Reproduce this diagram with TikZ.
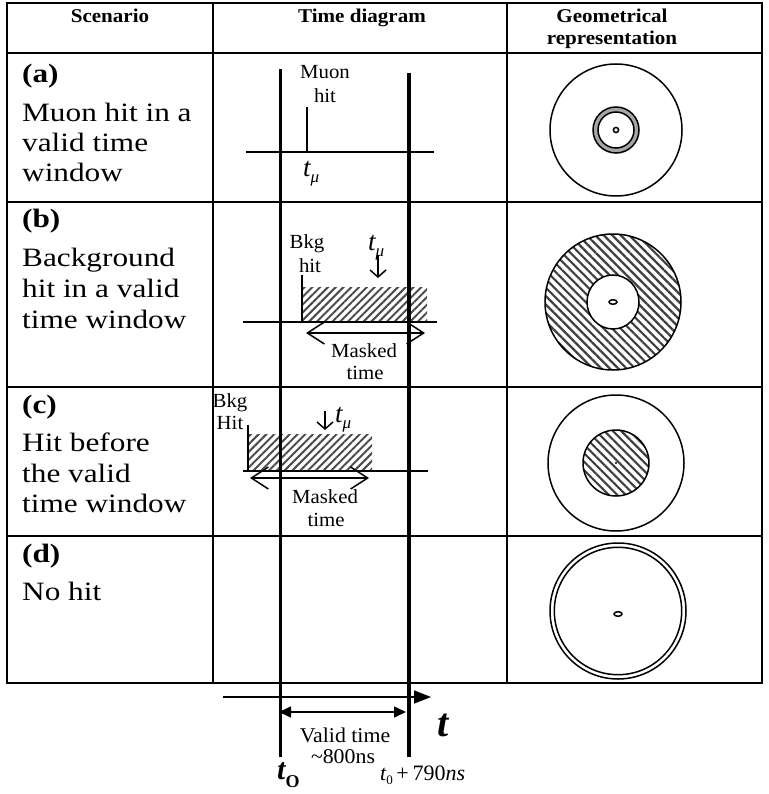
\documentclass[tikz,border=0pt]{standalone}
\usepackage{fontspec}
\setmainfont{Liberation Serif}
\newfontfamily\scen[FakeStretch=1.18]{Liberation Serif}
\newfontfamily\hdr[FakeStretch=1.08]{Liberation Serif}
\newfontfamily\lbl[FakeStretch=1.04]{Liberation Serif}
\usetikzlibrary{arrows.meta,patterns.meta}
\newcommand{\tmuA}{{\fontsize{27}{27}\selectfont\itshape t}\raisebox{-6pt}{\fontsize{17}{17}\selectfont\itshape μ}}
\begin{document}
\begin{tikzpicture}[x=1pt,y=-1pt,
  tbl/.style={line width=2.2pt},
  tline/.style={line width=3.5pt},
  ax/.style={line width=1.5pt},
  cl/.style={line width=1.5pt},
  sc/.style={inner sep=0pt,anchor=base west,font=\scen\fontsize{26.5}{26.5}\selectfont},
  hd/.style={inner sep=0pt,anchor=base,font=\hdr\bfseries\fontsize{19.5}{19.5}\selectfont},
  lb/.style={inner sep=0pt,anchor=base,font=\lbl\fontsize{20}{20}\selectfont},
  tm/.style={inner sep=0pt,anchor=base west},
  dbl/.style={line width=1.5pt,{Straight Barb[length=17pt,width=22pt]}-{Straight Barb[length=17pt,width=22pt]}},
  dn/.style={line width=1.5pt,-{Straight Barb[length=7pt,width=16pt]}},
  hatchR/.style={pattern={Lines[angle=45,distance=5.5pt,line width=2pt]},pattern color=black!70},
  hatchC/.style={pattern={Lines[angle=-45,distance=6pt,line width=2.2pt]},pattern color=black!75},
]
\useasboundingbox (0,0) rectangle (768,794);

% ---------- table ----------
\draw[tbl] (7,3) rectangle (762,683);
\foreach \yy in {53,202,387,536}{\draw[tbl] (7,\yy) -- (762,\yy);}
\draw[tbl] (213,3) -- (213,683);
\draw[tbl] (507,3) -- (507,683);

% header
\node[hd] (h1) at (110,23) {Scenario};
\node[hd] (h2) at (362,23) {Time diagram};
\node[hd] (h3) at (612,23) {Geometrical};
\node[hd] (h4) at (612,45) {representation};

% scenario texts
\node[sc] (a0) at (22,83) {\bfseries (a)};
\node[sc] (a1) at (22,122) {Muon hit in a};
\node[sc] (a2) at (22,152) {valid time};
\node[sc] (a3) at (22,182) {window};
\node[sc] (b0) at (22,228) {\bfseries (b)};
\node[sc] (b1) at (22,266) {Background};
\node[sc] (b2) at (22,297) {hit in a valid};
\node[sc] (b3) at (22,328) {time window};
\node[sc] (c0) at (22,413) {\bfseries (c)};
\node[sc] (c1) at (22,451) {Hit before};
\node[sc] (c2) at (22,482) {the valid};
\node[sc] (c3) at (22,512) {time window};
\node[sc] (d0) at (22,562) {\bfseries (d)};
\node[sc] (d1) at (22,600) {No hit};

% ---------- time diagram row (a) ----------
\coordinate (aL) at (246,152); \coordinate (aR) at (434,152);
\coordinate (mh0) at (307,152); \coordinate (mh1) at (307,107);
\draw[ax] (aL) -- (aR);
\draw[ax] (mh0) -- (mh1);
\node[lb] (mu1) at (325,79) {Muon};
\node[lb] (mu2) at (325,103) {hit};
\node[tm] (ta) at (303,177) {\tmuA};

% ---------- row (b) ----------
\fill[hatchR] (302,287) rectangle (427,322);
\coordinate (bL) at (243,322); \coordinate (bR) at (437,322);
\coordinate (bh0) at (302,322); \coordinate (bh1) at (302,275);
\draw[ax] (bL) -- (bR);
\draw[ax] (bh0) -- (bh1);
\node[lb] (bk1) at (307,248) {Bkg};
\node[lb] (bk2) at (310,272) {hit};
\node[tm] (tb) at (368,250) {\tmuA};
\coordinate (bd0) at (378,255); \coordinate (bd1) at (378,278);
\draw[dn] (bd0) -- (bd1);
\coordinate (bm0) at (306,333); \coordinate (bm1) at (425,333);
\draw[dbl] (bm0) -- (bm1);
\node[lb] (bm2) at (364,357) {Masked};
\node[lb] (bm3) at (365,379) {time};

% ---------- row (c) ----------
\fill[hatchR] (248,434) rectangle (372,471);
\coordinate (cL) at (243,471); \coordinate (cR) at (428,471);
\coordinate (ch0) at (248,471); \coordinate (ch1) at (248,425);
\draw[ax] (cL) -- (cR);
\draw[ax] (ch0) -- (ch1);
\node[lb] (ck1) at (230,407) {Bkg};
\node[lb] (ck2) at (230,429) {Hit};
\node[tm] (tc) at (335,422) {\tmuA};
\coordinate (cd0) at (325,411); \coordinate (cd1) at (325,430);
\draw[dn] (cd0) -- (cd1);
\coordinate (cm0) at (250,478); \coordinate (cm1) at (369,478);
\draw[dbl] (cm0) -- (cm1);
\node[lb] (cm2) at (325,503) {Masked};
\node[lb] (cm3) at (326,526) {time};

% ---------- thick time lines ----------
\coordinate (t0top) at (280.5,69); \coordinate (t0bot) at (280.5,757);
\coordinate (t1top) at (409,73); \coordinate (t1bot) at (409,757);
\draw[tline] (t0top) -- (t0bot);
\draw[tline] (t1top) -- (t1bot);

% ---------- bottom axis ----------
\coordinate (xs) at (223,697); \coordinate (xe) at (431,697);
\draw[line width=1.5pt,-{Triangle[length=17pt,width=13pt]}] (xs) -- (xe);
\coordinate (v0) at (279,712); \coordinate (v1) at (406,712);
\draw[line width=1.5pt,{Triangle[length=12pt,width=11pt]}-{Triangle[length=12pt,width=11pt]}] (v0) -- (v1);
\node[lb,font=\lbl\fontsize{21}{21}\selectfont] (vt) at (345,742) {Valid time};
\node[lb,font=\lbl\fontsize{21}{21}\selectfont] (vn) at (343,763) {\textasciitilde 800ns};
\node[tm] (bigt) at (437,736) {\fontsize{40}{40}\selectfont\bfseries\itshape t};
\node[tm] (tO) at (277,779) {\fontsize{30}{30}\selectfont\bfseries\itshape t\raisebox{-8pt}{\fontsize{18}{18}\selectfont\upshape O}};
\node[tm] (t790) at (380,780) {\fontsize{22}{22}\selectfont\itshape t\raisebox{-4pt}{\fontsize{13}{13}\selectfont\upshape 0}\,\upshape +\,790\itshape ns};

% ---------- geometrical representation ----------
% (a)
\coordinate (ga) at (616,130);
\draw[cl] (ga) circle (66);
\draw[cl,fill=black!35] (ga) circle (23);
\draw[cl,fill=white] (ga) circle (18);
\draw[cl] (ga) circle (2.6);
% (b)
\coordinate (gb) at (613,302);
\draw[cl,hatchC] (gb) circle (68);
\draw[cl,fill=white] (gb) ellipse [x radius=26,y radius=27];
\draw[cl] (gb) ellipse [x radius=4,y radius=2.3];
% (c)
\coordinate (gc) at (616,463);
\draw[cl] (gc) circle (68);
\draw[cl,hatchC] (gc) circle (33);
\fill (gc) circle (1.2);
% (d)
\coordinate (gd) at (618,611);
\draw[cl] (gd) circle (68);
\draw[cl] (gd) circle (63.7);
\draw[cl] (618,614) ellipse [x radius=4,y radius=2.3];
\end{tikzpicture}
\end{document}
